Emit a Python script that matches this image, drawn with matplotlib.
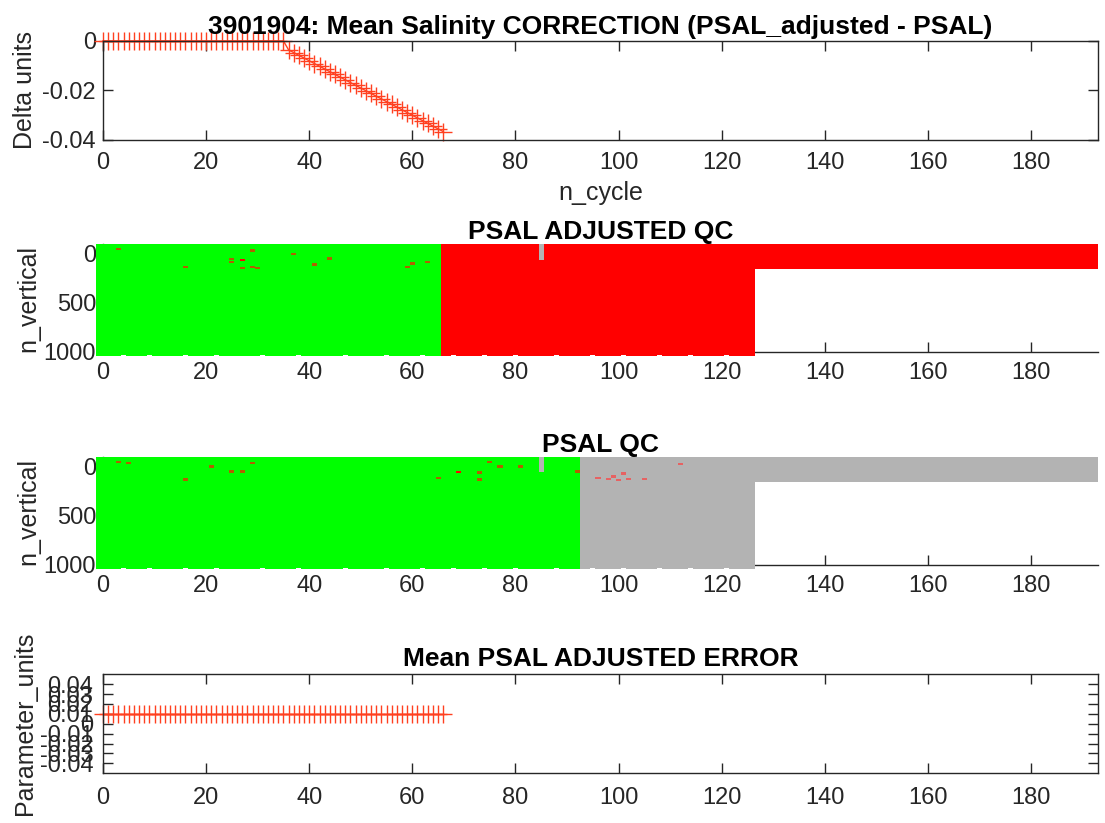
import numpy as np
import matplotlib.pyplot as plt
from matplotlib.colors import ListedColormap, BoundaryNorm

plt.rcParams['font.family'] = ['Liberation Sans', 'DejaVu Sans']
plt.rcParams['axes.unicode_minus'] = False

# --- data ---
float_id = '3901904'

# salinity correction and adjusted error, cycles 0..66
adj_cycles = list(range(0, 67))
correction = [0.0] * 36 + [
    -0.0036, -0.0047, -0.0058, -0.0069, -0.0080, -0.0091, -0.0102, -0.0113,
    -0.0124, -0.0135, -0.0146, -0.0157, -0.0168, -0.0179, -0.0190, -0.0201,
    -0.0212, -0.0223, -0.0234, -0.0245, -0.0256, -0.0267, -0.0278, -0.0289,
    -0.0300, -0.0311, -0.0322, -0.0333, -0.0344, -0.0355, -0.0366]
adj_error = [0.01] * 67

# QC sections, cycles 0..193
qc_cycles = list(range(0, 194))
deep_depth = 1045          # n_vertical reached by full profiles (cycles 0..126)
shallow_depth = 150        # short profiles from cycle 127 on
short_profiles = {4: 1035, 9: 1035, 16: 1035, 22: 1035, 31: 1035, 38: 1035,
                  47: 1035, 55: 1035, 62: 1035, 68: 1035, 74: 1035, 80: 1035,
                  88: 1035, 95: 1035, 101: 1035, 108: 1035, 114: 1035, 121: 1035}

# (first cycle, last cycle, qc code); codes: 0 grey, 1 green, 3 brown, 4 red, 5 pink
adj_qc_blocks = [(0, 65, 1), (66, 193, 4)]
raw_qc_blocks = [(0, 92, 1), (93, 193, 0)]

# (cycle, top level, bottom level, code)
adj_qc_stripes = [(85, -100, 63, 0)]
raw_qc_stripes = [(85, -100, 56, 0)]

# flagged points (cycle, level, code)
adj_qc_flags = [(3, -46, 3), (16, 131, 3), (25, 50, 3), (25, 84, 3), (27, 63, 4),
                (27, 141, 3), (29, -32, 3), (29, 131, 3), (30, 141, 3), (37, 2, 3),
                (41, 107, 3), (44, 46, 3), (59, 131, 3), (60, 97, 3), (63, 84, 3)]
raw_qc_flags = [(3, -49, 3), (5, -36, 3), (16, 127, 3), (21, -2, 3), (25, 46, 3),
                (27, 46, 3), (29, -36, 3), (65, 114, 3), (69, 53, 4), (73, 59, 3),
                (73, 127, 3), (75, -46, 3), (77, -2, 3), (81, -2, 3), (92, 46, 3),
                (96, 111, 5), (98, 123, 5), (99, 96, 5), (100, 134, 5), (101, 68, 5),
                (102, 123, 5), (105, 123, 5), (112, -26, 5)]

x_ticks = [0, 20, 40, 60, 80, 100, 120, 140, 160, 180]
corr_ticks = [0, -0.02, -0.04]
corr_labels = ['0', '-0.02', '-0.04']
lev_ticks = [0, 500, 1000]
err_ticks = [0.04, 0.03, 0.02, 0.01, 0, -0.01, -0.02, -0.03, -0.04]
err_labels = ['0.04', '0.03', '0.02', '0.01', '0', '-0.01', '-0.02', '-0.03', '-0.04']

# --- build the QC grids ---
depth = [deep_depth] * 127 + [shallow_depth] * 67
for c, d in short_profiles.items():
    depth[c] = d

lev_edges = np.arange(-100, 1051, 5)
lev_mid = 0.5 * (lev_edges[:-1] + lev_edges[1:])


def qc_grid(blocks, stripes, flags):
    grid = np.full((len(lev_mid), len(qc_cycles)), np.nan)
    for c0, c1, code in blocks:
        for c in range(c0, c1 + 1):
            grid[lev_mid < depth[c], c] = code
    for c, top, bot, code in stripes:
        grid[(lev_mid >= top) & (lev_mid <= bot), c] = code
    for c, lev, code in flags:
        grid[np.abs(lev_mid - lev) <= 12, c] = code
    return np.ma.masked_invalid(grid)


qc_colors = ['#b3b3b3', '#00ff00', '#ffffff', '#b06000', '#ff0000', '#e66262']
qc_cmap = ListedColormap(qc_colors)
qc_norm = BoundaryNorm(np.arange(-0.5, 6.5, 1), qc_cmap.N)

x_edges = np.arange(len(qc_cycles) + 1) - 0.5
x_edges[0] = -1.4
x_edges[-1] = 193

line_col = '#ff4020'
ax_col = '#262626'
tick_fs = 17
lab_fs = 18
tit_fs = 19

fig = plt.figure(figsize=(11.05, 8.23), dpi=100)

ax1 = fig.add_axes([0.0932, 0.8299, 0.9005, 0.1203])
ax2 = fig.add_axes([0.0932, 0.5723, 0.9005, 0.1312])
ax3 = fig.add_axes([0.0932, 0.3135, 0.9005, 0.1312])
ax4 = fig.add_axes([0.0932, 0.0604, 0.9005, 0.1203])

for ax in (ax1, ax2, ax3, ax4):
    ax.set_xlim(0, 193)
    ax.set_xticks(x_ticks)
    for sp in ax.spines.values():
        sp.set_color(ax_col)
        sp.set_linewidth(1.0)
    ax.tick_params(direction='in', length=7, width=1.0, color=ax_col,
                   labelcolor=ax_col, labelsize=tick_fs)

# correction
ax1.plot(adj_cycles, correction, '-+', color=line_col, lw=1.0, ms=13, mew=1.0,
         clip_on=False)
ax1.set_ylim(-0.04, 0)
ax1.set_yticks(corr_ticks)
ax1.set_yticklabels(corr_labels)
ax1.tick_params(top=True, right=True)
ax1.tick_params(axis='x', pad=9)
ax1.tick_params(axis='y', pad=5)
ax1.set_title(float_id + ': Mean Salinity CORRECTION (PSAL_adjusted - PSAL)',
              fontsize=tit_fs, fontweight='bold', pad=5)
ax1.set_xlabel('n_cycle', fontsize=lab_fs, color=ax_col, labelpad=5)
ax1.set_ylabel('Delta units', fontsize=lab_fs, color=ax_col)
ax1.yaxis.set_label_coords(-0.066, 0.5)

# QC sections
for ax, blocks, stripes, flags, title in (
        (ax2, adj_qc_blocks, adj_qc_stripes, adj_qc_flags, 'PSAL ADJUSTED QC'),
        (ax3, raw_qc_blocks, raw_qc_stripes, raw_qc_flags, 'PSAL QC')):
    mesh = ax.pcolormesh(x_edges, lev_edges, qc_grid(blocks, stripes, flags),
                         cmap=qc_cmap, norm=qc_norm, shading='flat', zorder=3)
    mesh.set_clip_on(False)
    ax.set_ylim(1000, -100)
    ax.set_yticks(lev_ticks)
    ax.spines['top'].set_visible(False)
    ax.spines['right'].set_visible(False)
    ax.tick_params(axis='x', pad=7)
    ax.tick_params(axis='y', pad=5)
    ax.set_title(title, fontsize=tit_fs, fontweight='bold', pad=0)
    ax.set_ylabel('n_vertical', fontsize=lab_fs, color=ax_col)
    ax.yaxis.set_label_coords(-0.063, 0.5)

# adjusted error
ax4.plot(adj_cycles, adj_error, '-+', color=line_col, lw=1.0, ms=13, mew=1.0,
         clip_on=False)
ax4.set_ylim(-0.05, 0.05)
ax4.set_yticks(err_ticks)
ax4.set_yticklabels(err_labels)
ax4.tick_params(top=True, right=True)
ax4.tick_params(axis='x', pad=10)
ax4.tick_params(axis='y', pad=7)
ax4.set_title('Mean PSAL ADJUSTED ERROR', fontsize=tit_fs, fontweight='bold', pad=6)
ax4.set_ylabel('Parameter_units', fontsize=lab_fs, color=ax_col)
ax4.yaxis.set_label_coords(-0.066, 0.5)

fig.savefig('out.png', dpi=100)
